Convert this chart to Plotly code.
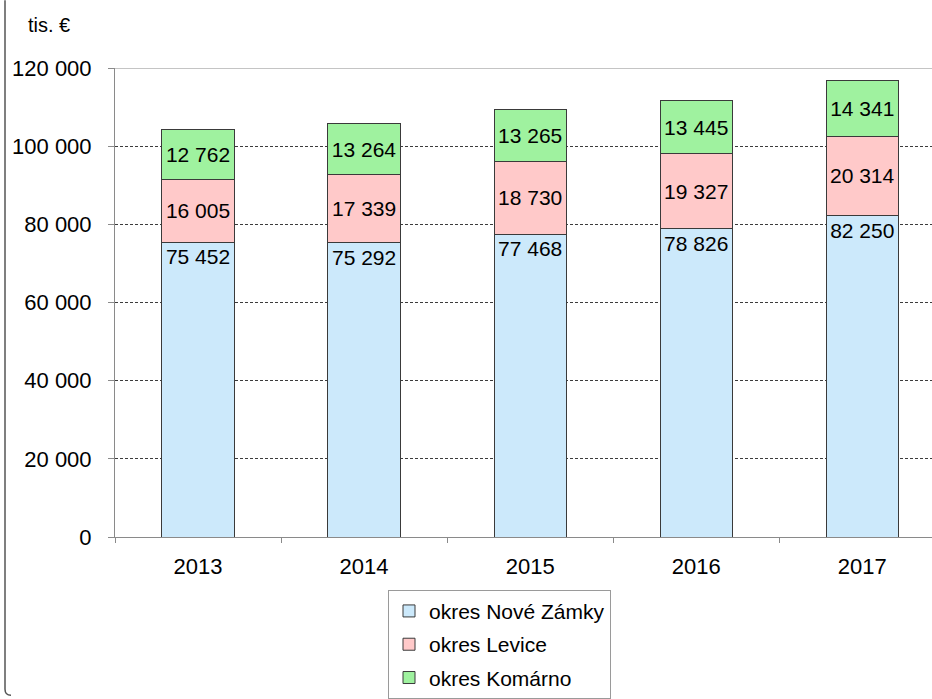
import plotly.graph_objects as go

years = ["2013", "2014", "2015", "2016", "2017"]
nove_zamky = [75452, 75292, 77468, 78826, 82250]
levice = [16005, 17339, 18730, 19327, 20314]
komarno = [12762, 13264, 13265, 13445, 14341]
series_names = ["okres Nové Zámky", "okres Levice", "okres Komárno"]
y_ticks = [0, 20000, 40000, 60000, 80000, 100000, 120000]

FONT = "Liberation Sans, Arial, sans-serif"
L, R, T, B = 115, 0, 68, 160
W, H = 932, 699
PW = W - L - R
PH = H - T - B

def px_x(p):
    return (p - L) / PW

def px_y(p):
    return (H - B - p) / PH

fig = go.Figure()
specs = [
    (nove_zamky, series_names[0], "#cce9fb", "end"),
    (levice, series_names[1], "#ffc9c9", "middle"),
    (komarno, series_names[2], "#9ff29f", "middle"),
]
for i, (vals, name, col, anchor) in enumerate(specs):
    fig.add_trace(go.Bar(
        x=years, y=vals, name=name, legendgroup=f"g{i}",
        marker=dict(color=col, line=dict(color="#3a3a3a", width=1)),
        width=0.435,
        texttemplate="%{y:,}",
        textposition="inside",
        insidetextanchor=anchor,
        textangle=0,
        textfont=dict(family=FONT, size=21, color="#000000"),
        hoverinfo="skip",
    ))

fig.update_layout(
    width=W, height=H,
    barmode="stack",
    separators=", ",
    margin=dict(l=L, r=R, t=T, b=B, pad=0),
    paper_bgcolor="white",
    plot_bgcolor="white",
    font=dict(family=FONT, size=21, color="#000000"),
    uniformtext=dict(minsize=21, mode="show"),
    showlegend=True,
    legend=dict(
        traceorder="grouped",
        x=px_x(388), y=px_y(592), xanchor="left", yanchor="top",
        bordercolor="#9a9a9a", borderwidth=1,
        bgcolor="white",
        font=dict(family=FONT, size=21, color="#000000"),
        itemwidth=30,
        tracegroupgap=3,
    ),
    xaxis=dict(
        type="category",
        range=[-0.5, 4.42],
        showline=True, linecolor="#8a8a8a", linewidth=1,
        ticks="outside", tickson="boundaries", ticklen=5, tickcolor="#8a8a8a",
        showgrid=False,
        tickfont=dict(family=FONT, size=22, color="#000000"),
        ticklabelstandoff=10,
    ),
    yaxis=dict(
        range=[0, 120000],
        tickvals=y_ticks,
        tickformat=",d",
        showline=True, linecolor="#8a8a8a", linewidth=1,
        ticks="outside", ticklen=6, tickcolor="#8a8a8a",
        showgrid=True, gridcolor="#3c3c3c", gridwidth=1, griddash="3px,2px",
        zeroline=False,
        tickfont=dict(family=FONT, size=22, color="#000000"),
        ticklabelstandoff=12,
    ),
    annotations=[dict(
        text="tis. €", x=px_x(26), y=px_y(25), xref="paper", yref="paper",
        xanchor="left", yanchor="middle", showarrow=False,
        font=dict(family=FONT, size=20, color="#000000"),
    )],
    shapes=[
        dict(type="line", xref="paper", yref="y", x0=0, x1=1, y0=120000, y1=120000,
             line=dict(color="#8a8a8a", width=1), layer="above"),
        dict(type="path", xref="paper", yref="paper",
             path=f"M {px_x(5)},{px_y(0)} L {px_x(5)},{px_y(692)} Q {px_x(5)},{px_y(698)} {px_x(11)},{px_y(698)}",
             line=dict(color="#555555", width=1.5)),
    ],
)

fig.write_html(
    "out.html",
    config={"displayModeBar": False, "staticPlot": True},
    post_script="document.body.style.margin='0';document.body.style.overflow='hidden';",
)
